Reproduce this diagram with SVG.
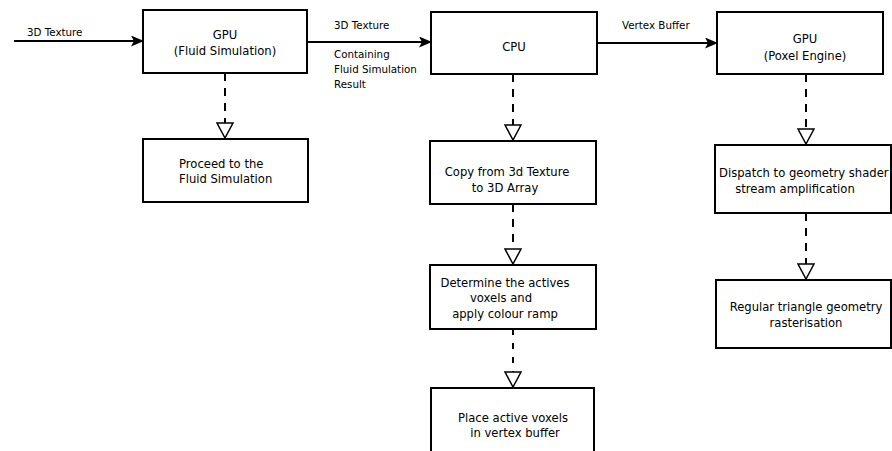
<svg xmlns="http://www.w3.org/2000/svg" width="892" height="451" viewBox="0 0 892 451">
<style>
.box{fill:#fff;stroke:#000;stroke-width:2}
.t{font-family:"DejaVu Sans","Liberation Sans",sans-serif;font-size:11.6px;fill:#000}
.c{text-anchor:middle}
.lbl{font-family:"DejaVu Sans","Liberation Sans",sans-serif;font-size:10.3px;fill:#000}
.solid{fill:none;stroke:#000;stroke-width:2;marker-end:url(#arrow)}
.dash{fill:none;stroke:#000;stroke-width:2;stroke-dasharray:8 7;marker-end:url(#tri)}
</style>
<defs>
<marker id="arrow" markerUnits="userSpaceOnUse" markerWidth="13" markerHeight="11" viewBox="0 0 13 11" refX="12" refY="5.5" orient="auto">
<path d="M0,0 L13,5.5 L0,11 L3,5.5 Z" fill="#000"/>
</marker>
<marker id="tri" markerUnits="userSpaceOnUse" markerWidth="17" markerHeight="18" viewBox="0 0 17 18" refX="16" refY="9" orient="auto">
<path d="M1,1 L16,9 L1,17 Z" fill="#fff" stroke="#000" stroke-width="1.5"/>
</marker>
</defs>
<rect width="892" height="451" fill="#fff"/>
<g id="connectors">
<path class="solid" d="M14,41 L143,41"/>
<text class="lbl" x="27" y="36">3D Texture</text>
<path class="solid" d="M307,42 L431,42"/>
<text class="lbl" x="334" y="29">3D Texture</text>
<text class="lbl" x="334" y="58">Containing</text>
<text class="lbl" x="334" y="73">Fluid Simulation</text>
<text class="lbl" x="334" y="88">Result</text>
<path class="solid" d="M597,43 L717,43"/>
<text class="lbl" x="622" y="29">Vertex Buffer</text>
<path class="dash" d="M225,73 L225,138"/>
<path class="dash" d="M513,74 L513,140"/>
<path class="dash" d="M513,204 L513,264"/>
<path class="dash" d="M513,329 L513,387" style="stroke-dasharray:6 8"/>
<path class="dash" d="M806,74 L806,144"/>
<path class="dash" d="M806,213 L806,279"/>
</g>
<g id="gpu-fluid">
<rect class="box" x="143" y="10" width="164" height="63"/>
<text class="t c" x="225" y="39">GPU</text>
<text class="t c" x="225" y="55">(Fluid Simulation)</text>
</g>
<g id="proceed">
<rect class="box" x="143" y="139" width="165" height="63"/>
<text class="t" x="179" y="168">Proceed to the</text>
<text class="t" x="179" y="183">Fluid Simulation</text>
</g>
<g id="cpu">
<rect class="box" x="431" y="12" width="166" height="62"/>
<text class="t c" x="514" y="51">CPU</text>
</g>
<g id="copy">
<rect class="box" x="430" y="141" width="166" height="63"/>
<text class="t c" x="507" y="176">Copy from 3d Texture</text>
<text class="t c" x="505" y="192">to 3D Array</text>
</g>
<g id="determine">
<rect class="box" x="430" y="265" width="166" height="64"/>
<text class="t c" x="505" y="287">Determine the actives</text>
<text class="t c" x="501" y="302">voxels and</text>
<text class="t c" x="505" y="318">apply colour ramp</text>
</g>
<g id="place">
<rect class="box" x="431" y="388" width="163" height="80"/>
<text class="t c" x="513" y="422">Place active voxels</text>
<text class="t c" x="515" y="437">in vertex buffer</text>
</g>
<g id="gpu-poxel">
<rect class="box" x="717" y="12" width="166" height="62"/>
<text class="t c" x="805" y="43">GPU</text>
<text class="t c" x="805" y="60">(Poxel Engine)</text>
</g>
<g id="dispatch">
<rect class="box" x="715" y="145" width="176" height="68"/>
<text class="t" x="719" y="177">Dispatch to geometry shader</text>
<text class="t c" x="795" y="193">stream amplification</text>
</g>
<g id="regular">
<rect class="box" x="716" y="280" width="175" height="68"/>
<text class="t c" x="806" y="311">Regular triangle geometry</text>
<text class="t c" x="806" y="327">rasterisation</text>
</g>
</svg>
